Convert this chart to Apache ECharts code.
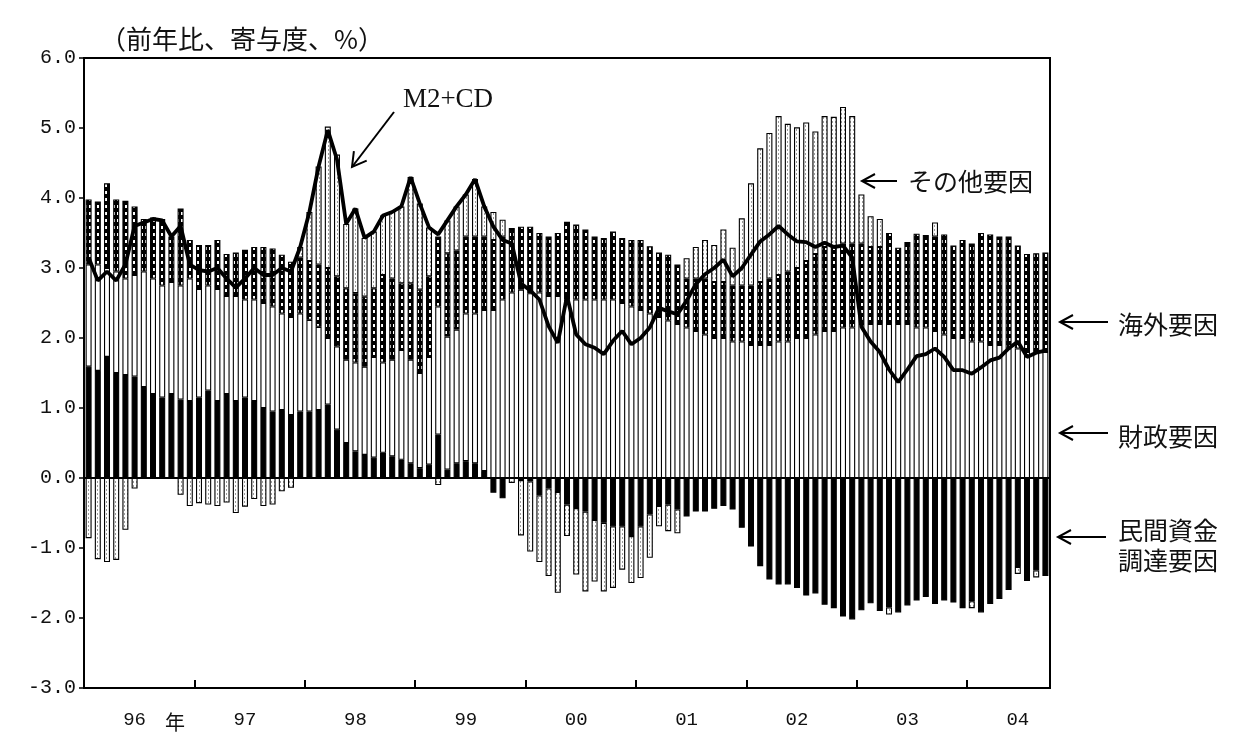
<!DOCTYPE html>
<html>
<head>
<meta charset="utf-8">
<script src="https://cdn.jsdelivr.net/npm/echarts@6/dist/echarts.min.js"></script>
<style>
  html, body { margin: 0; padding: 0; background: #fff; }
  #chart { width: 1233px; height: 738px; }
</style>
</head>
<body>
<div id="chart"></div>
<script>
// Monthly contributions to M2+CD growth (y/y, % points), Jan 1996 - Sep 2004
const firstYear = 1996;
const yearLabels = ['96', '97', '98', '99', '00', '01', '02', '03', '04'];

// 民間資金調達要因 (private-sector funding)
const privateFunding = [
  1.59, 1.53, 1.73, 1.50, 1.47, 1.45, 1.30, 1.20, 1.15, 1.20, 1.12, 1.10,
  1.15, 1.25, 1.10, 1.20, 1.10, 1.15, 1.10, 1.00, 0.95, 0.97, 0.90, 0.95,
  0.95, 0.97, 1.05, 0.69, 0.50, 0.38, 0.33, 0.29, 0.36, 0.31, 0.26, 0.21,
  0.14, 0.19, 0.62, 0.12, 0.21, 0.24, 0.21, 0.10, -0.21, -0.29, 0.00, -0.03,
  -0.05, -0.25, -0.15, -0.20, -0.38, -0.43, -0.48, -0.60, -0.64, -0.69, -0.69, -0.83,
  -0.69, -0.52, -0.40, -0.38, -0.45, -0.55, -0.48, -0.48, -0.44, -0.40, -0.45, -0.71,
  -0.98, -1.26, -1.45, -1.52, -1.52, -1.57, -1.68, -1.65, -1.81, -1.86, -1.98, -2.02,
  -1.89, -1.79, -1.90, -1.85, -1.92, -1.82, -1.75, -1.70, -1.80, -1.75, -1.78, -1.86,
  -1.76, -1.92, -1.80, -1.73, -1.60, -1.27, -1.47, -1.32, -1.40
];

// 財政要因 (fiscal)
const fiscal = [
  1.46, 1.52, 1.27, 1.45, 1.38, 1.45, 1.65, 1.65, 1.60, 1.60, 1.63, 1.75,
  1.55, 1.50, 1.60, 1.40, 1.50, 1.40, 1.45, 1.50, 1.50, 1.38, 1.40, 1.40,
  1.31, 1.19, 0.95, 1.19, 1.19, 1.27, 1.26, 1.44, 1.29, 1.38, 1.57, 1.48,
  1.36, 1.54, 1.83, 1.90, 1.91, 2.11, 2.14, 2.30, 2.40, 2.55, 2.65, 2.69,
  2.64, 2.65, 2.60, 2.60, 2.55, 2.55, 2.55, 2.55, 2.55, 2.55, 2.50, 2.45,
  2.40, 2.35, 2.30, 2.25, 2.20, 2.15, 2.10, 2.05, 2.00, 2.00, 1.95, 1.95,
  1.90, 1.90, 1.90, 1.95, 1.95, 2.00, 2.00, 2.05, 2.10, 2.10, 2.15, 2.15,
  2.20, 2.20, 2.20, 2.20, 2.20, 2.20, 2.15, 2.15, 2.10, 2.05, 2.00, 2.00,
  1.95, 1.95, 1.90, 1.90, 1.85, 1.85, 1.80, 1.80, 1.80
];

// 海外要因 (overseas)
const overseas = [
  0.93, 0.90, 1.21, 1.03, 1.11, 0.98, 0.75, 0.87, 0.95, 0.65, 1.10, 0.55,
  0.63, 0.58, 0.70, 0.60, 0.62, 0.71, 0.75, 0.80, 0.83, 0.84, 0.79, 0.80,
  0.84, 0.89, 1.00, 1.00, 1.02, 0.99, 1.00, 0.98, 1.25, 1.16, 0.95, 1.09,
  1.19, 1.15, 1.00, 1.19, 1.13, 1.10, 1.10, 1.05, 1.00, 0.90, 0.92, 0.90,
  0.95, 0.85, 0.85, 0.90, 1.11, 1.07, 1.00, 0.90, 0.88, 0.97, 0.93, 0.95,
  1.00, 0.96, 0.92, 0.94, 0.85, 0.70, 0.75, 0.80, 0.80, 0.80, 0.80, 0.80,
  0.85, 0.90, 0.95, 0.95, 1.00, 1.00, 1.10, 1.15, 1.20, 1.20, 1.20, 1.20,
  1.15, 1.10, 1.10, 1.30, 1.09, 1.17, 1.34, 1.32, 1.35, 1.43, 1.32, 1.40,
  1.40, 1.55, 1.58, 1.55, 1.60, 1.47, 1.40, 1.41, 1.42
];

// その他要因 (other)
const other = [
  -0.86, -1.16, -1.20, -1.17, -0.74, -0.15, 0, 0, 0, 0, -0.24, -0.40,
  -0.36, -0.38, -0.40, -0.35, -0.50, -0.41, -0.30, -0.40, -0.38, -0.19, -0.14, 0.15,
  0.70, 1.40, 2.02, 1.74, 0.92, 1.21, 0.84, 0.81, 0.85, 0.95, 1.10, 1.52,
  1.23, 0.70, -0.10, 0.47, 0.63, 0.60, 0.82, 0.43, 0.40, 0.24, -0.07, -0.79,
  -1.00, -0.95, -1.25, -1.44, -0.45, -0.95, -1.14, -0.88, -0.98, -0.88, -0.62, -0.67,
  -0.74, -0.62, -0.29, -0.38, -0.34, 0.29, 0.45, 0.55, 0.53, 0.75, 0.54, 0.96,
  1.46, 1.91, 2.08, 2.27, 2.11, 2.01, 1.98, 1.75, 1.87, 1.86, 1.95, 1.82,
  0.70, 0.44, 0.40, -0.10, 0, 0, 0, 0, 0.20, 0, 0, 0,
  -0.10, 0, 0, 0, 0, -0.10, 0, -0.10, 0
];

// M2+CD (y/y, %)
const m2cd = [
  3.15, 2.82, 2.95, 2.82, 3.05, 3.60, 3.65, 3.70, 3.68, 3.45, 3.60, 3.05,
  2.97, 2.95, 3.00, 2.85, 2.72, 2.85, 3.00, 2.90, 2.90, 3.00, 2.95, 3.30,
  3.80, 4.45, 4.97, 4.55, 3.63, 3.85, 3.43, 3.52, 3.75, 3.80, 3.88, 4.30,
  3.92, 3.58, 3.48, 3.68, 3.88, 4.05, 4.27, 3.88, 3.59, 3.40, 3.35, 2.78,
  2.68, 2.55, 2.17, 1.93, 2.60, 2.05, 1.91, 1.86, 1.77, 1.96, 2.10, 1.91,
  2.00, 2.15, 2.43, 2.38, 2.34, 2.53, 2.77, 2.91, 3.00, 3.12, 2.88, 3.00,
  3.19, 3.38, 3.48, 3.60, 3.48, 3.38, 3.37, 3.30, 3.36, 3.30, 3.32, 3.15,
  2.16, 1.95, 1.80, 1.55, 1.37, 1.55, 1.74, 1.77, 1.85, 1.73, 1.54, 1.54,
  1.49, 1.58, 1.68, 1.72, 1.85, 1.95, 1.73, 1.79, 1.82
];

// month categories "1996/01" ...
const months = m2cd.map((_, i) =>
  (firstYear + Math.floor(i / 12)) + '/' + String(i % 12 + 1).padStart(2, '0'));

// fill textures
function tile(w, h, paint) {
  const c = document.createElement('canvas');
  c.width = w; c.height = h;
  paint(c.getContext('2d'));
  return c;
}
const dottedFill = {
  image: tile(4, 7, g => {
    g.fillStyle = '#000'; g.fillRect(0, 0, 4, 7);
    g.fillStyle = '#fff'; g.fillRect(1, 2, 2, 3);
  }),
  repeat: 'repeat'
};
const speckleFill = {
  image: tile(3, 4, g => {
    g.fillStyle = '#fff'; g.fillRect(0, 0, 3, 4);
    g.fillStyle = '#9a9a9a'; g.fillRect(1, 1, 1, 2);
  }),
  repeat: 'repeat'
};

const blankZero = arr => arr.map(v => (v === 0 ? null : v));
const cjk = '"Noto Sans CJK JP", "Noto Sans CJK SC", sans-serif';
const mono = '"Liberation Mono", "DejaVu Sans Mono", monospace';

function barSeries(name, data, fill) {
  return {
    name, type: 'bar', stack: 'factors', data: blankZero(data),
    barWidth: 6,
    itemStyle: { color: fill, borderColor: '#000', borderWidth: 1.1 },
    emphasis: { disabled: true }
  };
}

// left-pointing arrow made of a shaft and an open head
function leftArrow(x1, x2, y) {
  return [
    { type: 'line', shape: { x1: x1, y1: y, x2: x2, y2: y }, style: { stroke: '#000', lineWidth: 2 } },
    { type: 'polyline', shape: { points: [[x1 + 13, y - 7], [x1, y], [x1 + 13, y + 7]] },
      style: { stroke: '#000', lineWidth: 2, fill: null } }
  ];
}
function label(text, x, y, size, font) {
  return { type: 'text', x: x, y: y,
    style: { text: text, fill: '#111', font: size + 'px ' + (font || cjk), textVerticalAlign: 'middle' } };
}

const chart = echarts.init(document.getElementById('chart'));
chart.setOption({
  animation: false,
  backgroundColor: '#fff',
  grid: { left: 84, right: 183, top: 58, bottom: 50, show: true, borderColor: '#000', borderWidth: 2 },
  xAxis: {
    type: 'category', data: months, boundaryGap: true,
    axisLine: { onZero: false, lineStyle: { color: '#000', width: 2 } },
    // one tick per year boundary (every 12 months)
    axisTick: { show: true, inside: true, length: 8, interval: 11,
      lineStyle: { color: '#000', width: 2 } },
    axisLabel: { interval: i => i % 12 === 5, formatter: (v, i) => yearLabels[Math.floor(i / 12)],
      fontFamily: mono, fontSize: 19, color: '#111', margin: 22 },
    splitLine: { show: false }
  },
  yAxis: {
    type: 'value', min: -3, max: 6, interval: 1,
    axisLine: { show: true, lineStyle: { color: '#000', width: 2 } },
    axisTick: { show: true, length: 5, lineStyle: { color: '#000', width: 1.5 } },
    splitLine: { show: false },
    axisLabel: { formatter: v => v.toFixed(1), fontFamily: mono, fontSize: 20, color: '#111', margin: 8 }
  },
  series: [
    barSeries('民間資金調達要因', privateFunding, '#000'),
    barSeries('財政要因', fiscal, '#fff'),
    barSeries('海外要因', overseas, dottedFill),
    barSeries('その他要因', other, speckleFill),
    {
      name: 'M2+CD', type: 'line', data: m2cd, symbol: 'none', z: 5,
      lineStyle: { color: '#000', width: 3.8 }, emphasis: { disabled: true },
      markLine: { silent: true, symbol: 'none', label: { show: false },
        lineStyle: { color: '#000', width: 2, type: 'solid' }, data: [{ yAxis: 0 }] }
    }
  ],
  graphic: [
    label('（前年比、寄与度、%）', 100, 39, 26),
    { type: 'text', x: 448, y: 100,
      style: { text: 'M2+CD', fill: '#111', font: '27px "Liberation Serif", "DejaVu Serif", serif',
        textAlign: 'center', textVerticalAlign: 'middle' } },
    { type: 'line', shape: { x1: 394, y1: 112, x2: 352, y2: 167 }, style: { stroke: '#000', lineWidth: 2 } },
    { type: 'polyline', shape: { points: [[366.7, 160.7], [352, 167], [353.9, 151.1]] },
      style: { stroke: '#000', lineWidth: 2, fill: null } },
    ...leftArrow(862, 897, 181),
    label('その他要因', 908, 181, 25),
    ...leftArrow(1060, 1108, 322),
    label('海外要因', 1118, 324, 25),
    ...leftArrow(1060, 1108, 433),
    label('財政要因', 1118, 436, 25),
    ...leftArrow(1058, 1106, 537),
    label('民間資金', 1118, 530, 25),
    label('調達要因', 1118, 560, 25),
    label('年', 165, 722, 20)
  ]
});
</script>
</body>
</html>
